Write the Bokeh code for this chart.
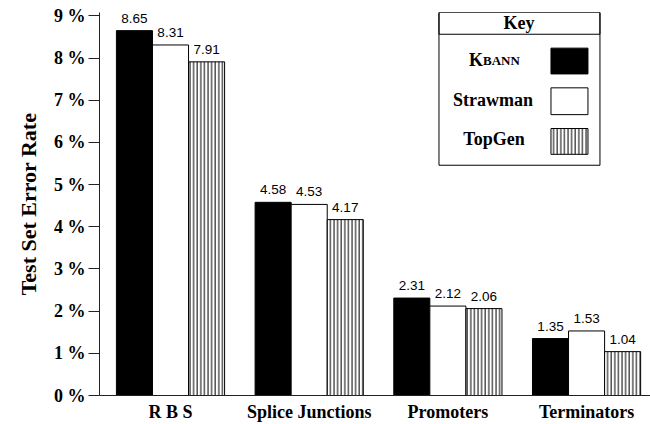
from bokeh.plotting import figure
from bokeh.models import ColumnDataSource, FixedTicker, BoxAnnotation, Label, Title
from bokeh.embed import file_html
from bokeh.resources import INLINE
from bokeh.core.properties import value

# ---- data ----
categories = ["R B S", "Splice Junctions", "Promoters", "Terminators"]
kbann = [8.65, 4.58, 2.31, 1.35]
strawman = [8.31, 4.53, 2.12, 1.53]
topgen = [7.91, 4.17, 2.06, 1.04]
y_ticks = [0, 1, 2, 3, 4, 5, 6, 7, 8, 9]
y_tick_labels = [f"{t} %" for t in y_ticks]

# ---- styling / layout ----
BAR_W = 0.26
SERIF = "Liberation Serif"
SANS = "Liberation Sans"
HATCH = dict(hatch_pattern="|", hatch_scale=3.6, hatch_weight=1, hatch_color="black", hatch_alpha=1)

p = figure(width=650, height=424, output_backend="svg", toolbar_location=None,
           x_range=(-0.512, 3.461), y_range=(0, 9.08),
           min_border_left=99, min_border_right=0, min_border_top=12, min_border_bottom=26)
p.xgrid.visible = False
p.ygrid.visible = False
p.outline_line_color = None
p.background_fill_color = "white"

groups = list(range(len(categories)))
series = [
    (kbann, -BAR_W, dict(fill_color="black")),
    (strawman, 0.0, dict(fill_color="white")),
    (topgen, BAR_W, dict(fill_color="white", **HATCH)),
]

lab_x, lab_y, lab_t = [], [], []
for vals, off, style in series:
    xs = [g + off for g in groups]
    src = ColumnDataSource(dict(x=xs, top=vals))
    p.vbar(x="x", top="top", bottom=0, width=BAR_W, source=src,
           line_color="black", line_width=1, **style)
    lab_x += xs
    lab_y += vals
    lab_t += [f"{v:.2f}" for v in vals]

lab_src = ColumnDataSource(dict(x=lab_x, y=lab_y, t=lab_t))
p.text(x="x", y="y", text="t", source=lab_src, text_align="center",
       text_baseline="bottom", y_offset=-8, text_font=value(SANS),
       text_font_size="13.5px", text_color="black")

# axes
p.xaxis.ticker = FixedTicker(ticks=groups)
p.xaxis.major_label_overrides = {g: c for g, c in zip(groups, categories)}
p.xaxis.major_tick_out = 0
p.xaxis.major_tick_in = 0
p.xaxis.minor_tick_out = 0
p.xaxis.minor_tick_in = 0
p.xaxis.major_label_standoff = 6
p.xaxis.major_label_text_font = SERIF
p.xaxis.major_label_text_font_style = "bold"
p.xaxis.major_label_text_font_size = "18px"
p.xaxis.major_label_text_color = "black"
p.xaxis.axis_line_color = "#222222"

p.yaxis.ticker = FixedTicker(ticks=y_ticks)
p.yaxis.major_label_overrides = {t: l for t, l in zip(y_ticks, y_tick_labels)}
p.yaxis.major_tick_out = 11
p.yaxis.major_tick_in = 0
p.yaxis.minor_tick_out = 0
p.yaxis.minor_tick_in = 0
p.yaxis.major_label_standoff = 3
p.yaxis.major_label_text_font = SERIF
p.yaxis.major_label_text_font_style = "bold"
p.yaxis.major_label_text_font_size = "18px"
p.yaxis.major_label_text_color = "black"
p.yaxis.axis_line_color = "#222222"
p.yaxis.major_tick_line_color = "#222222"

p.add_layout(Title(text="Test Set Error Rate", align="center",
                   offset=14, text_font=SERIF, text_font_style="bold",
                   text_font_size="22px", text_color="black", standoff=19), "left")

# ---- helpers mapping reference pixel layout to data space (layout only) ----
def dx(px):
    return (px - 170.5) / 138.7

def dy(py):
    return (398 - py) / 42.5

# ---- key (legend) drawn as annotations ----
box_common = dict(line_color="black", line_width=1, line_alpha=1, fill_alpha=1)
p.add_layout(BoxAnnotation(left=dx(439), right=dx(600), top=dy(12), bottom=dy(166),
                           fill_color="white", **box_common))
p.add_layout(BoxAnnotation(left=dx(439), right=dx(600), top=dy(12), bottom=dy(34),
                           fill_color=None, line_color="black", line_width=1, line_alpha=1))
p.add_layout(BoxAnnotation(left=dx(551), right=dx(588), top=dy(48), bottom=dy(74),
                           fill_color="black", **box_common))
p.add_layout(BoxAnnotation(left=dx(551), right=dx(588), top=dy(88), bottom=dy(115),
                           fill_color="white", **box_common))
p.add_layout(BoxAnnotation(left=dx(551), right=dx(588), top=dy(129), bottom=dy(155),
                           fill_color="white", **box_common, **HATCH))

lab_common = dict(text_font=SERIF, text_font_style="bold", text_color="black",
                  text_baseline="alphabetic")
p.add_layout(Label(x=dx(519), y=dy(23), text="Key", text_align="center",
                   text_font_size="18px", **lab_common))
p.add_layout(Label(x=dx(483), y=dy(60), text="K", text_align="right",
                   text_font_size="18px", **lab_common))
p.add_layout(Label(x=dx(483), y=dy(60), text="BANN", text_align="left",
                   text_font_size="13px", **lab_common))
p.add_layout(Label(x=dx(493), y=dy(100), text="Strawman", text_align="center",
                   text_font_size="18px", **lab_common))
p.add_layout(Label(x=dx(494), y=dy(140), text="TopGen", text_align="center",
                   text_font_size="18px", **lab_common))

open("out.html", "w").write(file_html(p, INLINE))
